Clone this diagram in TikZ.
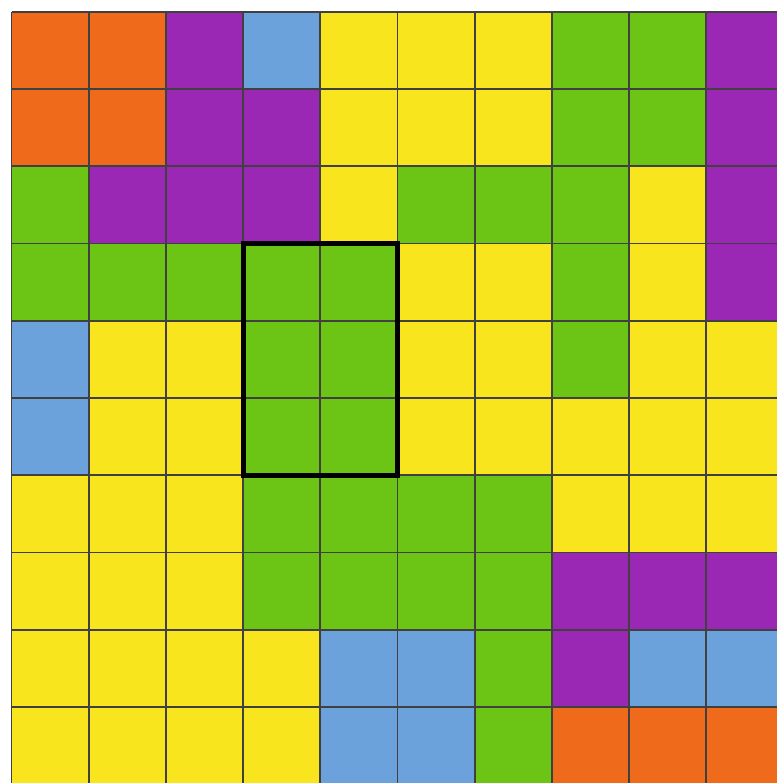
\documentclass[tikz,border=0pt]{standalone}
\definecolor{cO}{HTML}{F06A1C}
\definecolor{cP}{HTML}{9A28B4}
\definecolor{cB}{HTML}{6CA2DC}
\definecolor{cY}{HTML}{F8E51E}
\definecolor{cG}{HTML}{6CC514}
\tikzset{cellline/.style={draw=black!75, line width=1.8pt},
  frame/.style={draw=black, line width=5pt}}
\begin{document}
\begin{tikzpicture}[x=1pt,y=-1pt]
\useasboundingbox (0,0) rectangle (776,783);
\fill[white] (0,0) rectangle (776,783);
\def\ox{11.5}\def\oy{12}\def\cs{77.2}
\foreach \r/\row in {0/{O,O,P,B,Y,Y,Y,G,G,P},
                     1/{O,O,P,P,Y,Y,Y,G,G,P},
                     2/{G,P,P,P,Y,G,G,G,Y,P},
                     3/{G,G,G,G,G,Y,Y,G,Y,P},
                     4/{B,Y,Y,G,G,Y,Y,G,Y,Y},
                     5/{B,Y,Y,G,G,Y,Y,Y,Y,Y},
                     6/{Y,Y,Y,G,G,G,G,Y,Y,Y},
                     7/{Y,Y,Y,G,G,G,G,P,P,P},
                     8/{Y,Y,Y,Y,B,B,G,P,B,B},
                     9/{Y,Y,Y,Y,B,B,G,O,O,O}}{
  \foreach \c [count=\k from 0] in \row {
    \fill[c\c] ({\ox+\k*\cs},{\oy+\r*\cs}) rectangle ++(\cs,\cs);
  }
}
\foreach \k in {0,...,10} {
  \draw[cellline] ({\ox+\k*\cs},\oy) -- ({\ox+\k*\cs},{\oy+10*\cs});
  \draw[cellline] (\ox,{\oy+\k*\cs}) -- ({\ox+10*\cs},{\oy+\k*\cs});
}
\draw[frame] ({\ox+3*\cs},{\oy+3*\cs}) rectangle ({\ox+5*\cs},{\oy+6*\cs});
\end{tikzpicture}
\end{document}
